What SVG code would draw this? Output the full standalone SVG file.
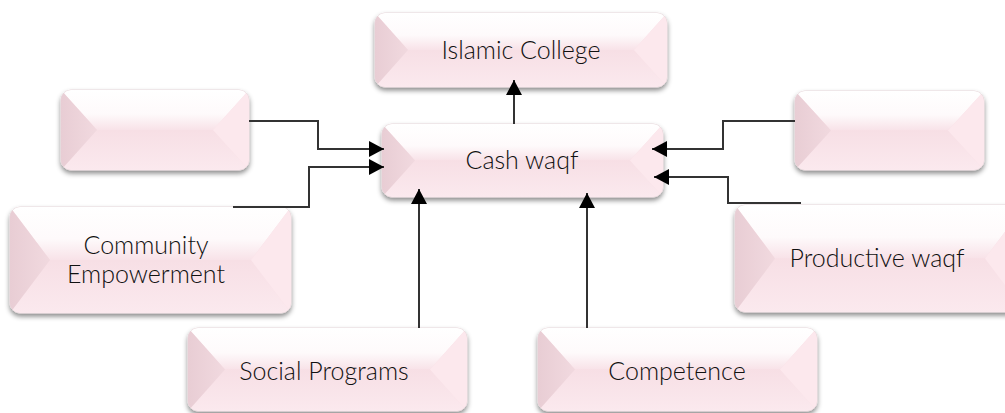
<svg xmlns="http://www.w3.org/2000/svg" width="1005" height="413" viewBox="0 0 1005 413">
<style>
.base{fill:#f7dfe5;stroke:#e6d6da;stroke-width:1}
.top{fill:url(#gTop)}
.bot{fill:url(#gBot)}
.left{fill:url(#gLeft)}
.right{fill:#fce8ed}
.lbl{font-family:Lato,"Open Sans","Liberation Sans",sans-serif;font-weight:300;font-size:25px;fill:#111;text-anchor:middle}
.conn{fill:none;stroke:#333;stroke-width:2}
</style>
<defs>
<filter id="sh" x="-10%" y="-20%" width="120%" height="150%">
<feDropShadow dx="0" dy="3" stdDeviation="2.5" flood-color="#000" flood-opacity="0.45"/>
</filter>
<linearGradient id="gTop" x1="0" y1="0" x2="0" y2="1">
<stop offset="0" stop-color="#ffffff"/>
<stop offset="0.6" stop-color="#fefafb"/>
<stop offset="1" stop-color="#f8e2e8"/>
</linearGradient>
<linearGradient id="gBot" x1="0" y1="0" x2="0" y2="1">
<stop offset="0" stop-color="#f7dfe5"/>
<stop offset="1" stop-color="#fbe9ee"/>
</linearGradient>
<linearGradient id="gLeft" x1="0" y1="0" x2="1" y2="0">
<stop offset="0" stop-color="#e8cdd4"/>
<stop offset="1" stop-color="#f1d9df"/>
</linearGradient>
<marker id="ah" markerUnits="userSpaceOnUse" markerWidth="16" markerHeight="16" refX="15" refY="8" orient="auto">
<path d="M0,0 L15,8 L0,16 z" fill="#000"/>
</marker>
<clipPath id="c1"><rect x="375" y="13" width="292" height="74" rx="10"/></clipPath>
<clipPath id="c2"><rect x="382" y="124" width="281" height="73" rx="10"/></clipPath>
<clipPath id="c3"><rect x="61" y="90" width="188" height="80" rx="10"/></clipPath>
<clipPath id="c4"><rect x="10" y="207" width="281" height="106" rx="10"/></clipPath>
<clipPath id="c5"><rect x="795" y="91" width="189" height="79" rx="10"/></clipPath>
<clipPath id="c6"><rect x="735" y="205" width="290" height="107" rx="10"/></clipPath>
<clipPath id="c7"><rect x="188" y="328" width="279" height="83" rx="10"/></clipPath>
<clipPath id="c8"><rect x="538" y="328" width="279" height="83" rx="10"/></clipPath>
</defs>
<rect width="1005" height="413" fill="#fff"/>

<g id="islamic-college">
<rect class="base" x="375" y="13" width="292" height="74" rx="10" filter="url(#sh)"/>
<g clip-path="url(#c1)">
<polygon class="top" points="375,13 667,13 634,50 408,50"/>
<polygon class="bot" points="375,87 667,87 634,50 408,50"/>
<polygon class="left" points="375,13 408,50 375,87"/>
<polygon class="right" points="667,13 634,50 667,87"/>
</g>
<text class="lbl" x="521" y="59">Islamic College</text>
</g>

<g id="cash-waqf">
<rect class="base" x="382" y="124" width="281" height="73" rx="10" filter="url(#sh)"/>
<g clip-path="url(#c2)">
<polygon class="top" points="382,124 663,124 630,160.5 415,160.5"/>
<polygon class="bot" points="382,197 663,197 630,160.5 415,160.5"/>
<polygon class="left" points="382,124 415,160.5 382,197"/>
<polygon class="right" points="663,124 630,160.5 663,197"/>
</g>
<text class="lbl" x="522" y="169">Cash waqf</text>
</g>

<g id="empty-left">
<rect class="base" x="61" y="90" width="188" height="80" rx="10" filter="url(#sh)"/>
<g clip-path="url(#c3)">
<polygon class="top" points="61,90 249,90 213,130 97,130"/>
<polygon class="bot" points="61,170 249,170 213,130 97,130"/>
<polygon class="left" points="61,90 97,130 61,170"/>
<polygon class="right" points="249,90 213,130 249,170"/>
</g>
</g>

<g id="community-empowerment">
<rect class="base" x="10" y="207" width="281" height="106" rx="10" filter="url(#sh)"/>
<g clip-path="url(#c4)">
<polygon class="top" points="10,207 291,207 251,260 50,260"/>
<polygon class="bot" points="10,313 291,313 251,260 50,260"/>
<polygon class="left" points="10,207 50,260 10,313"/>
<polygon class="right" points="291,207 251,260 291,313"/>
</g>
<text class="lbl" x="146" y="254">Community</text>
<text class="lbl" x="146" y="283">Empowerment</text>
</g>

<g id="empty-right">
<rect class="base" x="795" y="91" width="189" height="79" rx="10" filter="url(#sh)"/>
<g clip-path="url(#c5)">
<polygon class="top" points="795,91 984,91 948,130.5 831,130.5"/>
<polygon class="bot" points="795,170 984,170 948,130.5 831,130.5"/>
<polygon class="left" points="795,91 831,130.5 795,170"/>
<polygon class="right" points="984,91 948,130.5 984,170"/>
</g>
</g>

<g id="productive-waqf">
<rect class="base" x="735" y="205" width="290" height="107" rx="10" filter="url(#sh)"/>
<g clip-path="url(#c6)">
<polygon class="top" points="735,205 1025,205 985,258.5 775,258.5"/>
<polygon class="bot" points="735,312 1025,312 985,258.5 775,258.5"/>
<polygon class="left" points="735,205 775,258.5 735,312"/>
<polygon class="right" points="1025,205 985,258.5 1025,312"/>
</g>
<text class="lbl" x="877" y="267">Productive waqf</text>
</g>

<g id="social-programs">
<rect class="base" x="188" y="328" width="279" height="83" rx="10" filter="url(#sh)"/>
<g clip-path="url(#c7)">
<polygon class="top" points="188,328 467,328 430,369.5 225,369.5"/>
<polygon class="bot" points="188,411 467,411 430,369.5 225,369.5"/>
<polygon class="left" points="188,328 225,369.5 188,411"/>
<polygon class="right" points="467,328 430,369.5 467,411"/>
</g>
<text class="lbl" x="324" y="380">Social Programs</text>
</g>

<g id="competence">
<rect class="base" x="538" y="328" width="279" height="83" rx="10" filter="url(#sh)"/>
<g clip-path="url(#c8)">
<polygon class="top" points="538,328 817,328 780,369.5 575,369.5"/>
<polygon class="bot" points="538,411 817,411 780,369.5 575,369.5"/>
<polygon class="left" points="538,328 575,369.5 538,411"/>
<polygon class="right" points="817,328 780,369.5 817,411"/>
</g>
<text class="lbl" x="677" y="380">Competence</text>
</g>

<g id="connectors">
<path class="conn" d="M514,124 V80" marker-end="url(#ah)"/>
<path class="conn" d="M249,121 H318 V149 H384" marker-end="url(#ah)"/>
<path class="conn" d="M233,207 H309 V167 H384" marker-end="url(#ah)"/>
<path class="conn" d="M795,121 H723 V149 H652" marker-end="url(#ah)"/>
<path class="conn" d="M801,203 H728 V177 H654" marker-end="url(#ah)"/>
<path class="conn" d="M419,328 V189" marker-end="url(#ah)"/>
<path class="conn" d="M587,328 V193" marker-end="url(#ah)"/>
</g>
</svg>
